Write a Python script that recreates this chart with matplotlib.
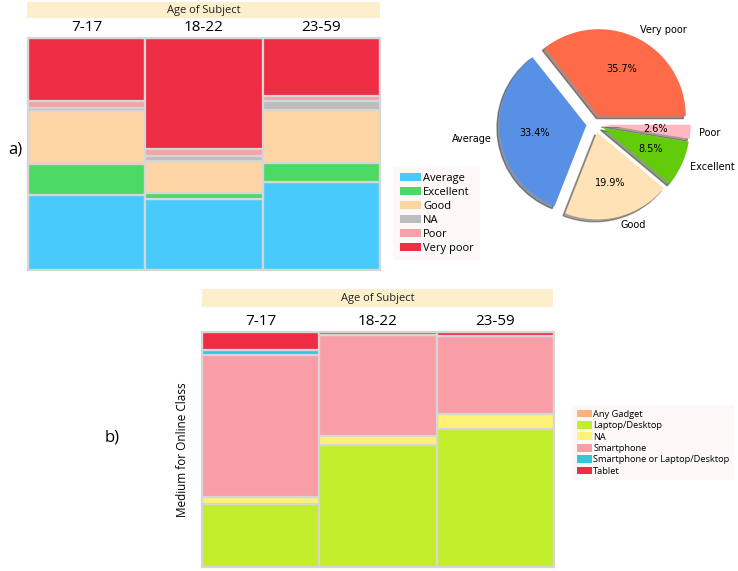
import matplotlib
matplotlib.use("Agg")
import matplotlib.pyplot as plt
from matplotlib.patches import Patch
import numpy as np

# ---------------- data ----------------
ages = ["7-17", "18-22", "23-59"]

# Panel a: quality of connection by age (fractions, bottom -> top)
quality_cats = ["Average", "Excellent", "Good", "NA", "Poor", "Very poor"]
quality_colors = ["#48CBFA", "#4CD964", "#FDD5A5", "#BDBDBD", "#F7A1A8", "#EE2D44"]
q_average = [0.324, 0.306, 0.378]
q_excellent = [0.134, 0.024, 0.082]
q_good = [0.229, 0.141, 0.229]
q_na = [0.012, 0.022, 0.040]
q_poor = [0.029, 0.029, 0.022]
q_verypoor = [0.273, 0.478, 0.249]

# Pie: overall quality
pie_labels = ["Very poor", "Average", "Good", "Excellent", "Poor"]
pie_values = [35.7, 33.4, 19.9, 8.5, 2.6]
pie_colors = ["#FF6A48", "#5790E5", "#FFE2B5", "#63CC0A", "#FFB8C2"]

# Panel b: medium for online class by age (fractions, bottom -> top)
medium_cats = ["Any Gadget", "Laptop/Desktop", "NA", "Smartphone",
               "Smartphone or Laptop/Desktop", "Tablet"]
medium_colors = ["#FBB37E", "#C3EE2C", "#FFF176", "#F99EA6", "#30C8DC", "#EE2D44"]
m_anygadget = [0.000, 0.000, 0.000]
m_laptop = [0.270, 0.519, 0.587]
m_na = [0.028, 0.040, 0.065]
m_smartphone = [0.606, 0.430, 0.333]
m_sorl = [0.020, 0.000, 0.000]
m_tablet = [0.077, 0.011, 0.014]

W, H = 738, 571
fig = plt.figure(figsize=(W / 100, H / 100), dpi=100)
fig.patch.set_facecolor("white")

UIFONT = ["Open Sans", "DejaVu Sans"]


def box(x0, y0, x1, y1):
    return [x0 / W, 1 - y1 / H, (x1 - x0) / W, (y1 - y0) / H]


def header(x0, y0, x1, y1, text):
    ax = fig.add_axes(box(x0, y0, x1, y1))
    ax.set_facecolor("#FDEFCB")
    ax.set_xticks([]); ax.set_yticks([])
    for s in ax.spines.values():
        s.set_visible(False)
    ax.text(0.5, 0.5, text, ha="center", va="center", fontsize=8,
            family=UIFONT, color="#222222", transform=ax.transAxes)


def mosaic(rect, series, colors):
    ax = fig.add_axes(rect)
    x = np.arange(len(ages))
    bottom = np.zeros(len(ages))
    for vals, c in zip(series, colors):
        vals = np.array(vals)
        ax.bar(x, vals, width=1.0, bottom=bottom, color=c,
               edgecolor="#D6D6D6", linewidth=1.6)
        bottom += vals
    ax.set_xlim(-0.5, len(ages) - 0.5)
    ax.set_ylim(0, 1)
    ax.set_yticks([])
    ax.xaxis.set_ticks_position("top")
    ax.set_xticks(x)
    ax.set_xticklabels(ages, fontsize=11, family=UIFONT)
    ax.tick_params(axis="x", length=0, pad=2)
    for s in ax.spines.values():
        s.set_color("#D6D6D6")
        s.set_linewidth(1.6)
    return ax


# ---------------- panel a mosaic ----------------
header(27, 2, 380, 18, "Age of Subject")
axa = mosaic(box(28, 38, 380, 270),
             [q_average, q_excellent, q_good, q_na, q_poor, q_verypoor],
             quality_colors)

fig.text(8 / W, 1 - 150 / H, "a)", fontsize=12, family=UIFONT,
         ha="left", va="center")

leg_a = fig.legend(handles=[Patch(facecolor=c, label=l)
                            for l, c in zip(quality_cats, quality_colors)],
                   loc="upper left", bbox_to_anchor=(393 / W, 1 - 166 / H),
                   frameon=True, fancybox=False, prop={"family": UIFONT, "size": 8},
                   handlelength=1.9, handleheight=0.8, handletextpad=0.2,
                   labelspacing=0.26, borderpad=0.6, borderaxespad=0)
leg_a.get_frame().set_facecolor("#FCF7F7")
leg_a.get_frame().set_edgecolor("none")

# ---------------- pie ----------------
axp = fig.add_axes(box(475, 4, 715, 244))
axp.pie(pie_values, labels=pie_labels, colors=pie_colors, startangle=0,
        explode=[0.1] * len(pie_values), shadow=True, autopct="%1.1f%%",
        textprops={"fontsize": 7})
axp.set_xlim(-1.38, 1.38)
axp.set_ylim(-1.38, 1.38)
axp.set_aspect("equal")

# ---------------- panel b mosaic ----------------
header(202, 289, 553, 307, "Age of Subject")
axb = mosaic(box(202, 332, 554, 567),
             [m_anygadget, m_laptop, m_na, m_smartphone, m_sorl, m_tablet],
             medium_colors)
fig.text(182 / W, 1 - 450 / H, "Medium for Online Class", rotation=90,
         fontsize=8.5, family=UIFONT, ha="center", va="center")
fig.text(105 / W, 1 - 437 / H, "b)", fontsize=12, family=UIFONT,
         ha="left", va="center")

leg_b = fig.legend(handles=[Patch(facecolor=c, label=l)
                            for l, c in zip(medium_cats, medium_colors)],
                   loc="upper left", bbox_to_anchor=(572 / W, 1 - 405 / H),
                   frameon=True, fancybox=False, prop={"family": UIFONT, "size": 6.7},
                   handlelength=1.7, handleheight=0.9, handletextpad=0.1,
                   labelspacing=0.25, borderpad=0.5, borderaxespad=0)
leg_b.get_frame().set_facecolor("#FCF7F7")
leg_b.get_frame().set_edgecolor("none")

fig.savefig("out.png", dpi=100)
